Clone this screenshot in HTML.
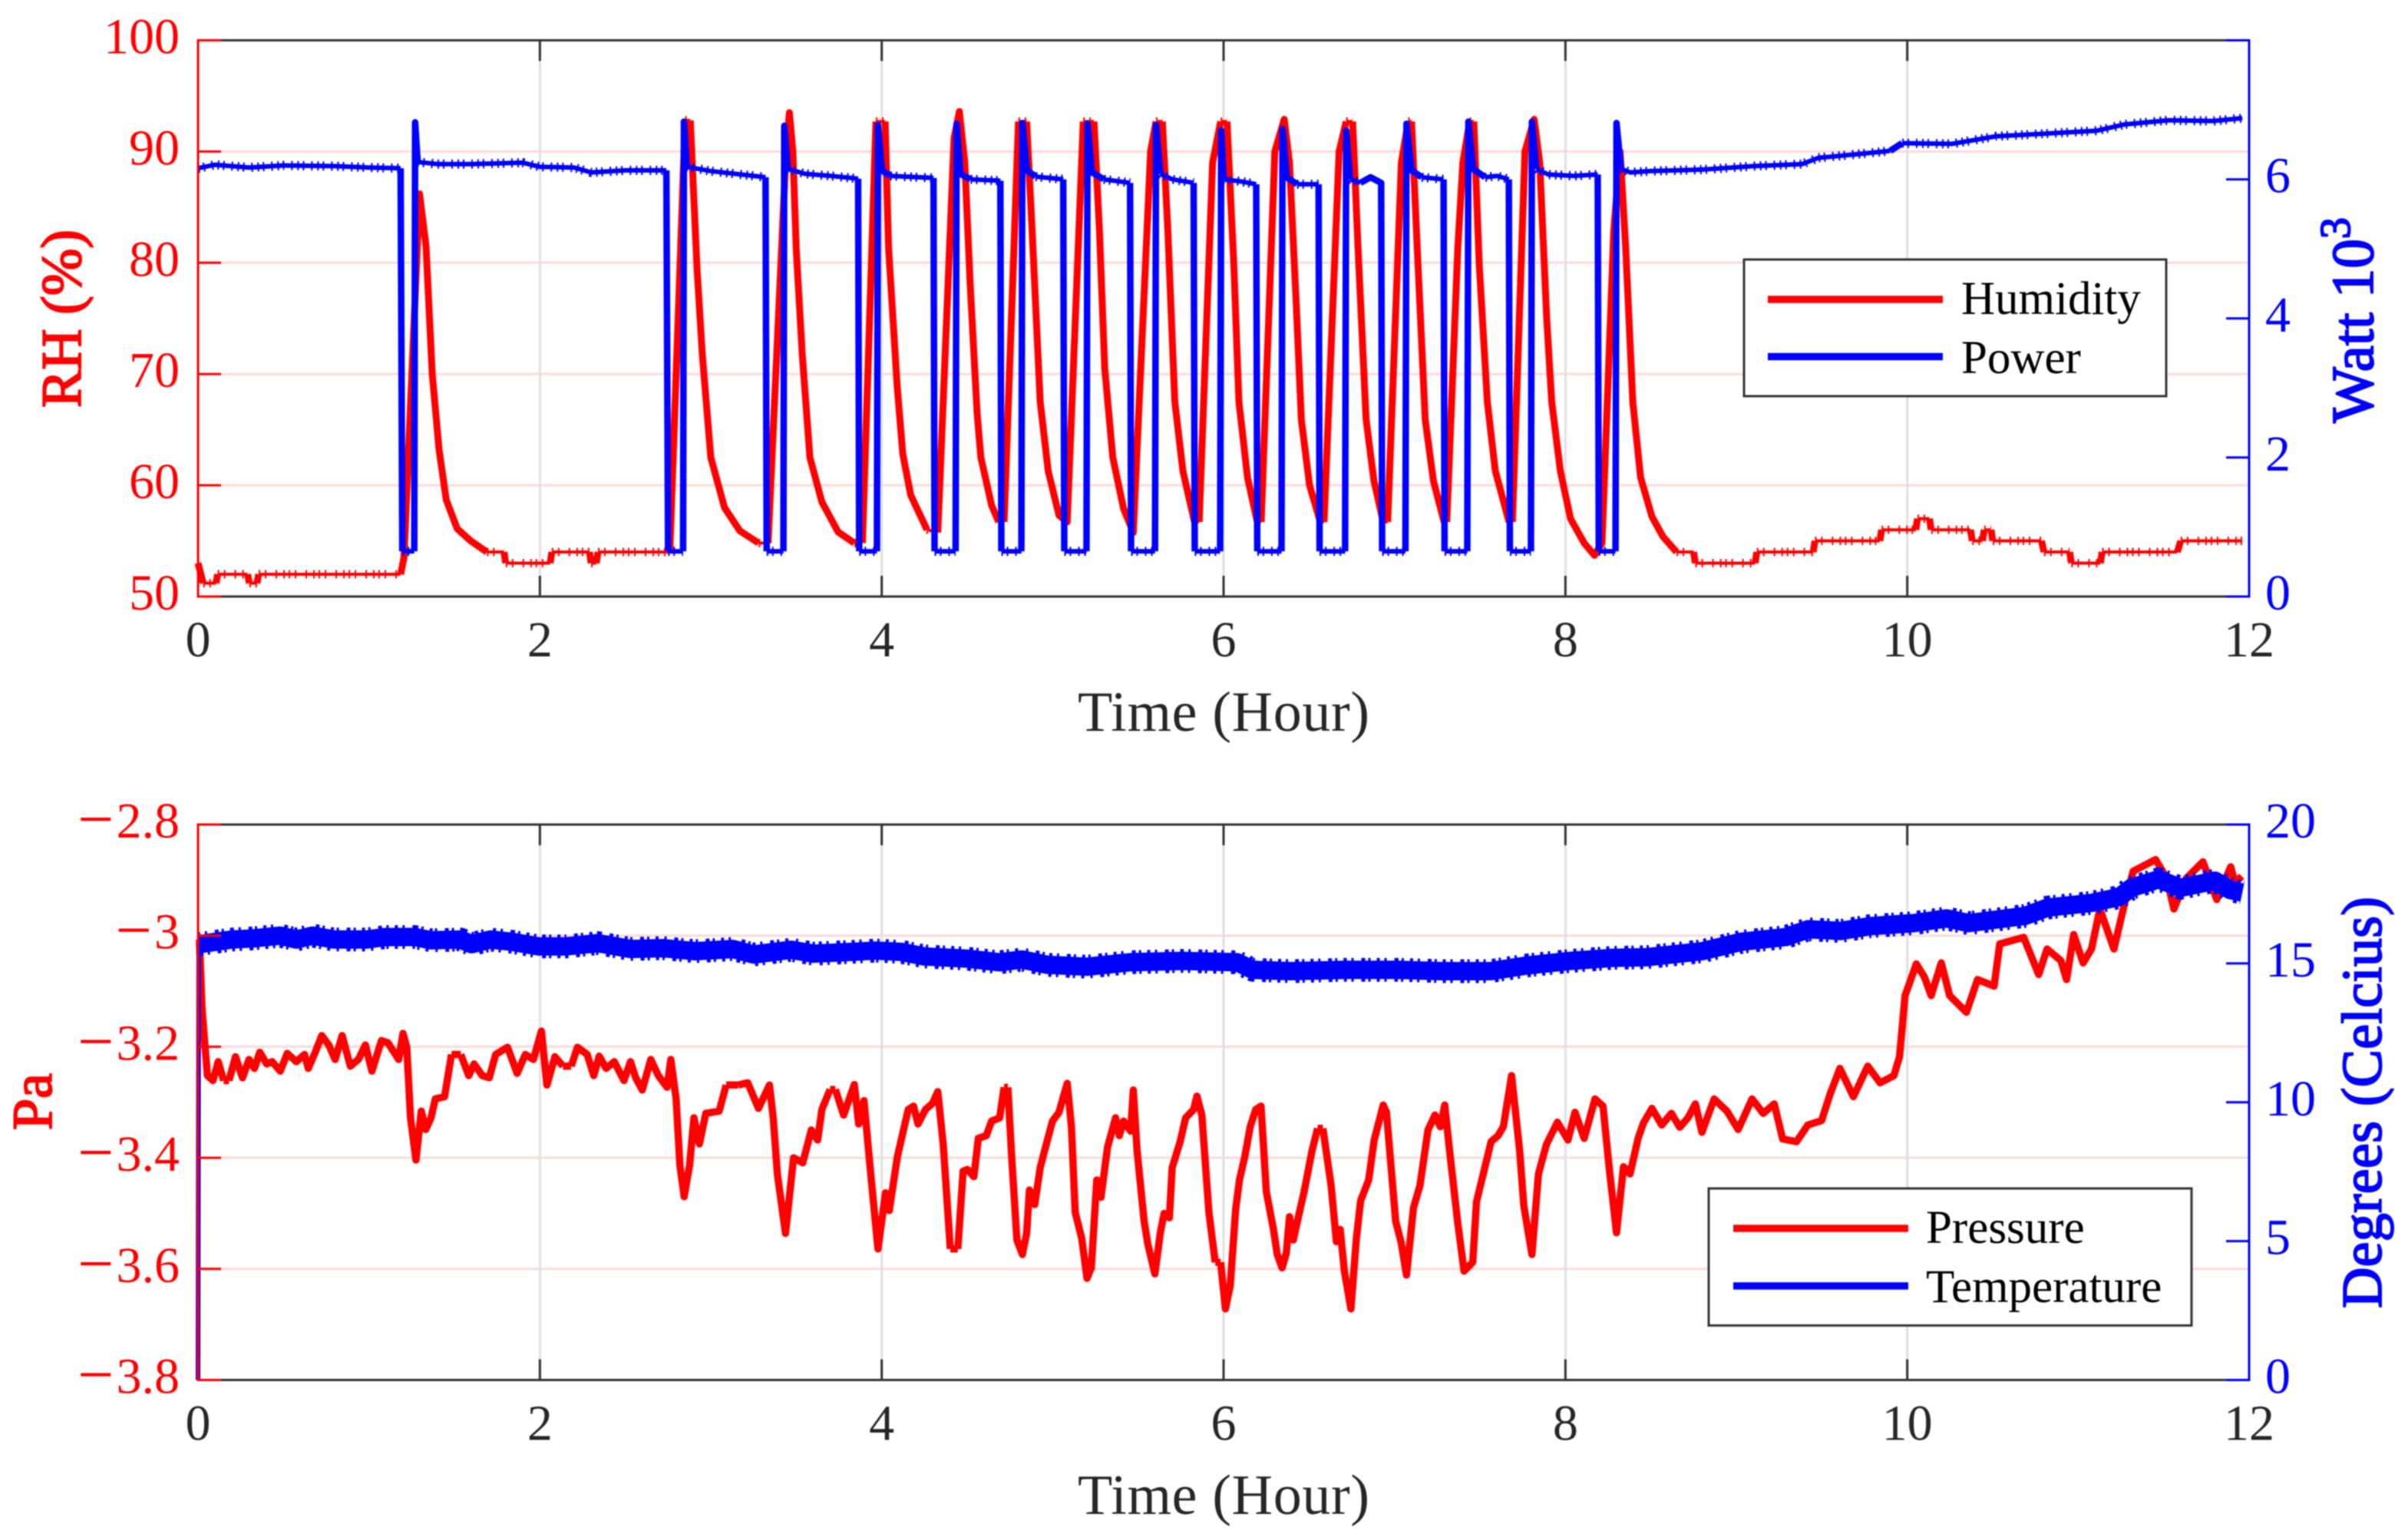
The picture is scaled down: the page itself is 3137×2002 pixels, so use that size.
<!DOCTYPE html>
<html lang="en">
<head>
<meta charset="utf-8">
<title>Humidity, power, pressure and temperature over time</title>
<style>
html,body{margin:0;padding:0;background:#fff;}
svg{display:block;font-family:"Liberation Serif",serif;filter:blur(0.7px);}
.tick{font-size:66px;}
.title{font-size:74px;}
.legend-text{font-size:61px;fill:#000;}
</style>
</head>
<body>
<svg id="figure" xmlns="http://www.w3.org/2000/svg" width="3137" height="2002" viewBox="0 0 3137 2002">
  <rect x="0" y="0" width="3137" height="2002" fill="#fff"/>
  <g id="top-grid"></g>
  <g id="bottom-grid"></g>

  <g id="top-series" fill="none" stroke-linejoin="round">
    <path id="humidity-flat" stroke="#ff0000" stroke-width="4"/>
    <path id="humidity-hash" stroke="#ff0000" stroke-width="11" stroke-dasharray="2 6 2 12 2 8 2 5"/>
    <path id="humidity-steep" stroke="#ff0000" stroke-width="9"/>
    <path id="power-flat" stroke="#0000ff" stroke-width="6"/>
    <path id="power-hash" stroke="#0000ff" stroke-width="12" stroke-dasharray="2 5 2 9 2 6"/>
    <path id="power-steep" stroke="#0000ff" stroke-width="8.5"/>
  </g>
  <g id="bottom-series" fill="none" stroke-linejoin="round">
    <path id="pressure-line" stroke="#ff0000" stroke-width="9.5"/>
    <path id="temperature-flat" stroke="#0000ff" stroke-width="24"/>
    <path id="temperature-hash" stroke="#0000ff" stroke-width="31" stroke-dasharray="4 6 3 10 5 4 3 8"/>
    <path id="temperature-steep" stroke="#0000ff" stroke-width="6"/>
  </g>

  <g id="top-axes"></g>
  <g id="bottom-axes"></g>

  <text class="title" x="1594" y="952" text-anchor="middle" fill="#262626" textLength="380">Time (Hour)</text>
  <text class="title" x="1594" y="1972" text-anchor="middle" fill="#262626" textLength="380">Time (Hour)</text>
  <text class="title" transform="translate(105,415) rotate(-90)" text-anchor="middle" fill="#ff0000" stroke="#ff0000" stroke-width="2" textLength="232">RH (%)</text>
  <text class="title" transform="translate(3091,417) rotate(-90)" font-size="77" style="font-size:77px" text-anchor="middle" fill="#0000ff" stroke="#0000ff" stroke-width="2">Watt 10<tspan dy="-30" style="font-size:56px">3</tspan></text>
  <text class="title" transform="translate(67,1435) rotate(-90)" text-anchor="middle" fill="#ff0000" stroke="#ff0000" stroke-width="2">Pa</text>
  <text class="title" transform="translate(3102,1436) rotate(-90)" text-anchor="middle" fill="#0000ff" stroke="#0000ff" stroke-width="2" textLength="536">Degrees (Celcius)</text>

  <g>
    <rect x="2272" y="338" width="550" height="178" fill="#fff" stroke="#333" stroke-width="3"/>
    <line x1="2303" y1="390" x2="2531" y2="390" stroke="#ff0000" stroke-width="9.5"/>
    <text class="legend-text" x="2555" y="409">Humidity</text>
    <line x1="2303" y1="464.5" x2="2531" y2="464.5" stroke="#0000ff" stroke-width="9.5"/>
    <text class="legend-text" x="2555" y="486">Power</text>
  </g>
  <g>
    <rect x="2226" y="1548" width="629" height="178.5" fill="#fff" stroke="#333" stroke-width="3"/>
    <line x1="2258" y1="1600" x2="2486" y2="1600" stroke="#ff0000" stroke-width="9.5"/>
    <text class="legend-text" x="2509" y="1619">Pressure</text>
    <line x1="2258" y1="1675" x2="2486" y2="1675" stroke="#0000ff" stroke-width="9.5"/>
    <text class="legend-text" x="2509" y="1696">Temperature</text>
  </g>
</svg>

<script>
// ---- tick values and labels ----
const xTicks = [0, 2, 4, 6, 8, 10, 12];
const humidityTicks = [50, 60, 70, 80, 90, 100];
const powerTicks = [0, 2, 4, 6, 8];
const powerTickLabels = ['0', '2', '4', '6', ''];
const pressureTicks = [-3.8, -3.6, -3.4, -3.2, -3, -2.8];
const pressureTickLabels = ['3.8', '3.6', '3.4', '3.2', '3', '2.8'];
const temperatureTicks = [0, 5, 10, 15, 20];

// ---- humidity series (hours, %RH) ----
const humidityHours = [
0,0.03,0.105,0.115,0.29,0.3,0.345,0.355,1.185,1.205,
1.296,1.334,1.37,1.41,1.452,1.516,1.595,1.69,1.79,1.8,
2.06,2.07,2.29,2.3,2.33,2.34,2.76,2.85,2.88,2.92,
2.95,3,3.08,3.17,3.28,3.335,3.44,3.46,3.48,3.5,
3.535,3.58,3.65,3.745,3.84,3.887,3.966,4.02,4.04,4.09,
4.123,4.17,4.265,4.328,4.423,4.454,4.486,4.517,4.558,4.58,
4.643,4.684,4.716,4.8,4.848,4.88,4.927,4.974,5.037,5.085,
5.179,5.242,5.274,5.305,5.352,5.415,5.472,5.573,5.605,5.642,
5.674,5.715,5.762,5.83,5.857,5.936,5.983,6.02,6.06,6.09,
6.14,6.197,6.22,6.3,6.355,6.386,6.424,6.455,6.503,6.566,
6.588,6.676,6.717,6.755,6.787,6.834,6.88,6.934,6.96,7.04,
7.08,7.1,7.133,7.18,7.228,7.29,7.306,7.37,7.4,7.44,
7.464,7.496,7.543,7.59,7.67,7.69,7.763,7.817,7.85,7.89,
7.92,7.97,8.03,8.11,8.17,8.214,8.283,8.32,8.353,8.394,
8.44,8.506,8.57,8.65,8.75,8.76,9.11,9.12,9.45,9.46,
9.84,9.85,10.05,10.06,10.13,10.14,10.37,10.38,10.44,10.45,
10.49,10.5,10.785,10.8,10.95,10.96,11.13,11.14,11.58,11.6,
11.96];
const humidityValues = [
53,51.2,51.2,52,52,51.2,51.2,52,52,53.5,
86.2,81.5,70,63.2,58.7,56.1,55,54,54,53,
53,54,54,53,53,54,54,92.8,92.8,79.3,
71.8,62.5,58,55.9,54.8,54.8,90,93.5,90,81.2,
71.8,62.5,58.5,55.8,54.8,54.8,92.7,92.7,81.3,69,
62.8,59.1,56,55.75,91.2,93.6,89,78.2,66.5,62.5,
58.2,56.7,56.7,92.7,92.7,82.9,67.5,61.3,57.3,56.7,
92.7,92.7,82.9,70.5,62.5,57.9,55.75,90,92.7,92.7,
82.9,67.5,61.3,56.7,56.7,89,92.7,92.7,79.8,67.5,
60.7,56.7,56.7,90,92.9,89,76.7,65.9,60,56.7,
56.7,90,92.7,92.7,81.3,65.9,60.4,56.7,56.7,89,
92.7,92.7,81.3,65.9,60.4,56.7,56.7,81.3,89,92.7,
92.7,79.8,67.5,61.3,56.7,56.7,90,92.9,89,75.2,
67.5,61.3,57,54.8,53.7,54.8,82.9,90,81.3,67.5,
60.7,57.2,55.4,54,54,53,53,54,54,55,
55,56,56,57,57,56,56,55,55,56,
56,55,55,54,54,53,53,54,54,55,
55];

// ---- power series (hours, kW) ----
const powerHours = [
0,0.1,0.3,0.5,0.8,1,1.185,1.195,1.265,1.27,
1.285,1.4,1.6,1.9,2,2.2,2.3,2.5,2.74,2.75,
2.838,2.843,2.86,3,3.32,3.327,3.425,3.43,3.45,3.55,
3.7,3.862,3.868,3.972,3.978,4,4.05,4.303,4.309,4.432,
4.438,4.46,4.52,4.694,4.7,4.817,4.823,4.85,4.9,5.062,
5.068,5.198,5.204,5.23,5.3,5.453,5.459,5.599,5.605,5.63,
5.7,5.825,5.831,5.98,5.986,6,6.1,6.191,6.197,6.339,
6.345,6.37,6.43,6.556,6.562,6.711,6.717,6.74,6.8,6.86,
6.922,6.928,7.064,7.07,7.1,7.16,7.287,7.293,7.426,7.432,
7.46,7.53,7.6,7.669,7.675,7.798,7.804,7.83,7.9,8.05,
8.189,8.195,8.293,8.299,8.325,8.38,8.5,8.8,9.1,9.385,
9.48,9.7,9.9,9.97,10.26,10.52,10.9,11.11,11.27,11.53,
11.79,11.96];
const powerValues = [
6.16,6.21,6.17,6.2,6.19,6.17,6.16,0.65,0.65,6.82,
6.25,6.22,6.22,6.24,6.18,6.17,6.1,6.13,6.13,0.65,
0.65,6.83,6.18,6.12,6.03,0.65,0.65,6.77,6.15,6.08,
6.05,6.01,0.65,0.65,6.78,6.13,6.05,6.02,0.65,0.65,
6.8,6.08,6,5.98,0.65,0.65,6.81,6.13,6.04,6,
0.65,0.65,6.8,6.1,6,5.95,0.65,0.65,6.78,6.08,
6,5.95,0.65,0.65,6.7,6,5.97,5.93,0.65,0.65,
6.72,6.03,5.93,5.93,0.65,0.65,6.7,6,5.95,6.03,
5.95,0.65,0.65,6.8,6.13,6.03,6,0.65,0.65,6.83,
6.15,6.03,6.05,6,0.65,0.65,6.83,6.15,6.07,6.05,
6.07,0.65,0.65,6.81,6.15,6.1,6.12,6.14,6.19,6.22,
6.31,6.36,6.41,6.52,6.51,6.62,6.67,6.7,6.79,6.85,
6.84,6.88];

// ---- pressure series (hours, Pa) ----
const pressureHours = [
0.008,0.024,0.055,0.087,0.118,0.15,0.181,0.219,0.26,0.298,
0.33,0.361,0.402,0.434,0.481,0.522,0.575,0.623,0.645,0.686,
0.724,0.765,0.802,0.843,0.891,0.938,0.979,1.017,1.073,1.111,
1.174,1.199,1.221,1.243,1.275,1.306,1.332,1.363,1.388,1.442,
1.483,1.537,1.584,1.615,1.663,1.704,1.741,1.811,1.867,1.915,
1.962,2.009,2.041,2.088,2.135,2.183,2.22,2.277,2.315,2.347,
2.388,2.435,2.492,2.53,2.561,2.599,2.649,2.693,2.744,2.766,
2.797,2.819,2.844,2.876,2.901,2.933,2.971,3.049,3.09,3.16,
3.216,3.279,3.343,3.365,3.39,3.437,3.484,3.538,3.588,3.625,
3.65,3.698,3.729,3.777,3.84,3.865,3.896,3.934,3.978,4.022,
4.044,4.092,4.155,4.186,4.212,4.256,4.297,4.328,4.36,4.401,
4.445,4.476,4.501,4.539,4.565,4.612,4.643,4.69,4.716,4.738,
4.76,4.791,4.823,4.848,4.864,4.895,4.927,4.958,4.999,5.037,
5.062,5.085,5.11,5.132,5.17,5.201,5.226,5.258,5.283,5.321,
5.368,5.39,5.415,5.456,5.472,5.494,5.535,5.557,5.598,5.63,
5.652,5.683,5.699,5.746,5.778,5.825,5.844,5.873,5.914,5.951,
5.983,6.011,6.039,6.071,6.093,6.125,6.156,6.188,6.219,6.25,
6.292,6.314,6.342,6.367,6.386,6.408,6.44,6.471,6.518,6.55,
6.581,6.629,6.66,6.682,6.707,6.745,6.777,6.802,6.849,6.881,
6.934,6.953,7.007,7.039,7.07,7.111,7.149,7.196,7.237,7.268,
7.294,7.322,7.369,7.407,7.458,7.48,7.511,7.565,7.606,7.637,
7.685,7.732,7.757,7.804,7.842,7.889,7.953,8.015,8.056,8.11,
8.173,8.22,8.258,8.299,8.34,8.378,8.425,8.457,8.506,8.564,
8.62,8.669,8.717,8.76,8.799,8.87,8.945,9.011,9.092,9.157,
9.222,9.271,9.352,9.418,9.499,9.548,9.606,9.685,9.769,9.841,
9.922,9.955,9.987,10.053,10.101,10.14,10.199,10.248,10.346,10.411,
10.508,10.541,10.681,10.769,10.818,10.899,10.932,10.974,11.029,11.078,
11.127,11.209,11.274,11.322,11.453,11.518,11.56,11.632,11.73,11.811,
11.892,11.918,11.957];
const pressureValues = [
-3.007,-3.134,-3.252,-3.261,-3.227,-3.261,-3.261,-3.218,-3.256,-3.223,
-3.239,-3.21,-3.231,-3.227,-3.244,-3.212,-3.227,-3.214,-3.239,-3.21,
-3.18,-3.197,-3.223,-3.18,-3.235,-3.223,-3.197,-3.244,-3.189,-3.193,
-3.223,-3.176,-3.201,-3.328,-3.404,-3.316,-3.349,-3.328,-3.294,-3.29,
-3.214,-3.214,-3.252,-3.231,-3.252,-3.256,-3.214,-3.201,-3.248,-3.214,
-3.223,-3.172,-3.269,-3.218,-3.235,-3.235,-3.201,-3.214,-3.252,-3.217,
-3.239,-3.227,-3.261,-3.227,-3.256,-3.278,-3.223,-3.252,-3.273,-3.223,
-3.294,-3.413,-3.47,-3.413,-3.328,-3.375,-3.32,-3.316,-3.269,-3.269,
-3.265,-3.311,-3.269,-3.328,-3.43,-3.536,-3.4,-3.409,-3.35,-3.368,
-3.313,-3.277,-3.277,-3.323,-3.268,-3.339,-3.297,-3.424,-3.564,-3.463,
-3.495,-3.397,-3.313,-3.307,-3.339,-3.313,-3.302,-3.281,-3.376,-3.564,
-3.564,-3.424,-3.421,-3.434,-3.365,-3.36,-3.334,-3.328,-3.273,-3.273,
-3.397,-3.548,-3.574,-3.535,-3.458,-3.484,-3.418,-3.381,-3.334,-3.318,
-3.291,-3.266,-3.344,-3.498,-3.545,-3.617,-3.598,-3.44,-3.471,-3.381,
-3.328,-3.36,-3.334,-3.352,-3.278,-3.387,-3.514,-3.556,-3.609,-3.535,
-3.5,-3.508,-3.418,-3.371,-3.328,-3.313,-3.289,-3.323,-3.498,-3.588,
-3.588,-3.672,-3.63,-3.492,-3.44,-3.397,-3.344,-3.313,-3.307,-3.461,
-3.529,-3.574,-3.598,-3.572,-3.506,-3.548,-3.503,-3.461,-3.387,-3.347,
-3.347,-3.45,-3.551,-3.529,-3.604,-3.672,-3.545,-3.477,-3.44,-3.368,
-3.305,-3.318,-3.514,-3.553,-3.611,-3.49,-3.45,-3.35,-3.323,-3.344,
-3.305,-3.387,-3.514,-3.604,-3.588,-3.479,-3.44,-3.371,-3.36,-3.344,
-3.252,-3.387,-3.487,-3.574,-3.429,-3.376,-3.336,-3.368,-3.318,-3.365,
-3.294,-3.307,-3.424,-3.535,-3.416,-3.429,-3.365,-3.337,-3.311,-3.341,
-3.32,-3.345,-3.328,-3.303,-3.354,-3.294,-3.316,-3.349,-3.294,-3.32,
-3.303,-3.366,-3.371,-3.341,-3.333,-3.286,-3.239,-3.29,-3.235,-3.265,
-3.252,-3.218,-3.108,-3.051,-3.075,-3.108,-3.049,-3.108,-3.138,-3.079,
-3.091,-3.015,-3.003,-3.07,-3.024,-3.045,-3.079,-2.998,-3.049,-3.024,
-2.952,-3.024,-2.939,-2.884,-2.863,-2.897,-2.952,-2.897,-2.867,-2.935,
-2.876,-2.905,-2.893];

// ---- temperature series (hours, deg C) ----
const temperatureHours = [
0,0.004,0.103,0.197,0.323,0.481,0.575,0.67,0.796,0.985,
1.095,1.269,1.363,1.537,1.6,1.71,1.836,1.994,2.15,2.34,
2.53,2.72,2.91,3.13,3.25,3.47,3.6,3.81,3.966,4.12,
4.25,4.5,4.69,4.82,4.97,5.2,5.45,5.76,6.08,6.17,
6.39,6.71,7.02,7.28,7.56,7.78,8.03,8.28,8.47,8.8,
9.03,9.29,9.42,9.61,9.78,10.04,10.23,10.36,10.69,10.82,
11.08,11.24,11.31,11.47,11.6,11.8,11.89,11.96];
const temperatureValues = [
0,15.69,15.78,15.86,15.9,16,15.86,16,15.86,15.86,
15.95,15.95,15.83,15.86,15.69,15.86,15.78,15.61,15.61,15.73,
15.52,15.55,15.44,15.52,15.32,15.49,15.35,15.41,15.46,15.41,
15.25,15.17,15.04,15.14,14.95,14.88,15.04,15.09,15.04,14.77,
14.72,14.77,14.77,14.72,14.72,14.93,15.09,15.2,15.22,15.44,
15.78,15.95,16.23,16.17,16.34,16.45,16.62,16.45,16.71,17.01,
17.18,17.39,17.72,18.03,17.72,17.98,17.64,17.55];

// ---- axis functions ----
const plotLeft = 258, plotRight = 2930;
const topPlotTop = 52.5, topPlotBottom = 777;
const botPlotTop = 1074, botPlotBottom = 1797.5;
const xScale = h => plotLeft + (plotRight - plotLeft) * h / 12;
const yHumidity = v => topPlotBottom - (topPlotBottom - topPlotTop) * (v - 50) / 50;
const yPower = v => topPlotBottom - (topPlotBottom - topPlotTop) * v / 8;
const yPressure = v => botPlotBottom - (botPlotBottom - botPlotTop) * (v + 3.8) / 1;
const yTemperature = v => botPlotBottom - (botPlotBottom - botPlotTop) * v / 20;

const SVG_NS = 'http://www.w3.org/2000/svg';
function newLine(parent, x1, y1, x2, y2, color, width) {
  const el = document.createElementNS(SVG_NS, 'line');
  el.setAttribute('x1', x1);
  el.setAttribute('y1', y1);
  el.setAttribute('x2', x2);
  el.setAttribute('y2', y2);
  el.setAttribute('stroke', color);
  el.setAttribute('stroke-width', width);
  parent.appendChild(el);
  return el;
}
function newText(parent, x, y, anchor, color, str) {
  const el = document.createElementNS(SVG_NS, 'text');
  el.setAttribute('x', x);
  el.setAttribute('y', y);
  el.setAttribute('text-anchor', anchor);
  el.setAttribute('fill', color);
  el.setAttribute('class', 'tick');
  el.textContent = str;
  parent.appendChild(el);
  return el;
}

// Splits a series into gentle and steep runs, so that the dense flat stretches
// keep the thinner look they have in the figure.
function splitPaths(hours, values, yFn, limit) {
  const n = Math.min(hours.length, values.length);
  let flat = '', steep = '', lastFlat = -1, lastSteep = -1;
  for (let i = 1; i < n; i++) {
    const x0 = xScale(hours[i - 1]), y0 = yFn(values[i - 1]);
    const x1 = xScale(hours[i]), y1 = yFn(values[i]);
    const isSteep = Math.abs(y1 - y0) > limit * Math.abs(x1 - x0);
    const seg = ' L' + x1.toFixed(1) + ' ' + y1.toFixed(1);
    const start = 'M' + x0.toFixed(1) + ' ' + y0.toFixed(1);
    if (isSteep) {
      steep += (lastSteep === i - 1 ? '' : ' ' + start) + seg;
      lastSteep = i;
    } else {
      flat += (lastFlat === i - 1 ? '' : ' ' + start) + seg;
      lastFlat = i;
    }
  }
  return { flat: flat.trim(), steep: steep.trim() };
}

// ---- series ----
const humidityPaths = splitPaths(humidityHours, humidityValues, yHumidity, 0.5);
document.getElementById('humidity-flat').setAttribute('d', humidityPaths.flat);
document.getElementById('humidity-hash').setAttribute('d', humidityPaths.flat);
document.getElementById('humidity-steep').setAttribute('d', humidityPaths.steep);
const powerPaths = splitPaths(powerHours, powerValues, yPower, 0.5);
document.getElementById('power-flat').setAttribute('d', powerPaths.flat);
document.getElementById('power-hash').setAttribute('d', powerPaths.flat);
document.getElementById('power-steep').setAttribute('d', powerPaths.steep);
const pressurePaths = splitPaths(pressureHours, pressureValues, yPressure, 0);
document.getElementById('pressure-line').setAttribute('d', pressurePaths.steep + ' ' + pressurePaths.flat);
const temperaturePaths = splitPaths(temperatureHours, temperatureValues, yTemperature, 5);
document.getElementById('temperature-flat').setAttribute('d', temperaturePaths.flat);
document.getElementById('temperature-hash').setAttribute('d', temperaturePaths.flat);
document.getElementById('temperature-steep').setAttribute('d', temperaturePaths.steep);

// ---- grids ----
function drawGrid(group, leftTicks, yFn, top, bottom) {
  leftTicks.forEach(v => {
    const el = newLine(group, plotLeft, yFn(v), plotRight, yFn(v), '#ffd9d9', 3);
    
    
  });
  xTicks.forEach(h => {
    const el = newLine(group, xScale(h), top, xScale(h), bottom, '#e0e0e0', 3);
    
    
  });
}
drawGrid(document.getElementById('top-grid'), humidityTicks, yHumidity, topPlotTop, topPlotBottom);
drawGrid(document.getElementById('bottom-grid'), pressureTicks, yPressure, botPlotTop, botPlotBottom);

// ---- axes ----
function drawFrame(group, top, bottom) {
  const topEdge = newLine(group, plotLeft, top, plotRight, top, '#333', 3);
  
  
  const xAxis = newLine(group, plotLeft, bottom, plotRight, bottom, '#333', 3);
  
  
  const leftAxis = newLine(group, plotLeft, top - 1.5, plotLeft, bottom + 1.5, '#ff0000', 3);
  
  
  const rightAxis = newLine(group, plotRight, top - 1.5, plotRight, bottom + 1.5, '#0000ff', 3);
  
  
  xTicks.forEach((h, i) => {
    if (i > 0 && i < xTicks.length - 1) {
      const up = newLine(group, xScale(h), bottom, xScale(h), bottom - 27, '#333', 3);
      
      
      const down = newLine(group, xScale(h), top, xScale(h), top + 27, '#333', 3);
      
      
    }
    const label = newText(group, xScale(h), bottom + 78, 'middle', '#262626', String(h));
    
    
  });
}
function drawLeftTicks(group, ticks, yFn, labels, negative) {
  ticks.forEach((v, i) => {
    const tick = newLine(group, plotLeft, yFn(v), plotLeft + 30, yFn(v), '#ff0000', 3);
    
    
    const label = newText(group, 234, yFn(v) + 17, 'end', '#ff0000', '');
    
    
    const digits = document.createElementNS(SVG_NS, 'tspan');
    digits.textContent = labels[i];
    if (negative) {
      const minus = document.createElementNS(SVG_NS, 'tspan');
      minus.setAttribute('style', 'font-size:84px;letter-spacing:3px');
      minus.setAttribute('dy', '4');
      minus.textContent = '\u2212';
      label.appendChild(minus);
      digits.setAttribute('dy', '-4');
    }
    label.appendChild(digits);
  });
}
function drawRightTicks(group, ticks, yFn, labels) {
  ticks.forEach((v, i) => {
    const tick = newLine(group, plotRight - 30, yFn(v), plotRight, yFn(v), '#0000ff', 3);
    
    
    const label = newText(group, 2951, yFn(v) + 17, 'start', '#0000ff', labels[i]);
    
    
  });
}
const topAxes = document.getElementById('top-axes');
const bottomAxes = document.getElementById('bottom-axes');
drawFrame(topAxes, topPlotTop, topPlotBottom);
drawLeftTicks(topAxes, humidityTicks, yHumidity, humidityTicks.map(String), false);
drawRightTicks(topAxes, powerTicks, yPower, powerTickLabels);
drawFrame(bottomAxes, botPlotTop, botPlotBottom);
drawLeftTicks(bottomAxes, pressureTicks, yPressure, pressureTickLabels, true);
drawRightTicks(bottomAxes, temperatureTicks, yTemperature, temperatureTicks.map(String));
</script>
</body>
</html>
